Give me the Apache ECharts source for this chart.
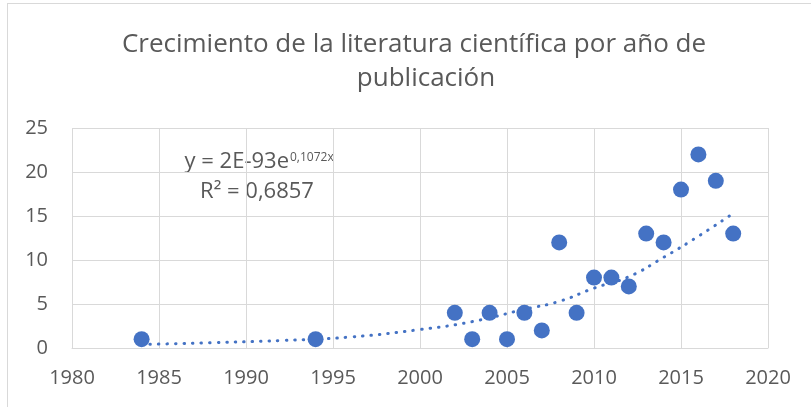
<!DOCTYPE html>
<html>
<head>
<meta charset="utf-8">
<script src="https://cdn.jsdelivr.net/npm/echarts@6/dist/echarts.min.js"></script>
<style>
  html, body { margin: 0; padding: 0; overflow: hidden; background: #fff; }
  .frame {
    position: absolute; left: 7px; top: 3px;
    width: 900px; height: 500px;
    border: 1px solid #d9d9d9;
  }
  #chart { position: absolute; left: 0; top: 0; width: 811px; height: 407px; }
</style>
</head>
<body>
<div class="frame"></div>
<div id="chart"></div>
<script>
// publicaciones por año
const years = [1984, 1994, 2002, 2003, 2004, 2005, 2006, 2007, 2008, 2009, 2010, 2011, 2012, 2013, 2014, 2015, 2016, 2017, 2018]
const counts = [1, 1, 4, 1, 4, 1, 4, 2, 12, 4, 8, 8, 7, 13, 12, 18, 22, 19, 13]

// línea de tendencia exponencial
const trendYears = [1984, 1988, 1992, 1996, 2000, 2003, 2006, 2008, 2010, 2012, 2014, 2016, 2018]
const trendValues = [0.4, 0.6, 0.85, 1.25, 2.1, 3.0, 4.4, 5.3, 6.8, 8.1, 10.3, 12.7, 15.3]

const textColor = '#595959'
const font = 'Open Sans'

const chart = echarts.init(document.getElementById('chart'))

const option = {
  animation: false,
  grid: { left: 72, right: 43, top: 128, bottom: 59 },
  xAxis: {
    type: 'value',
    min: 1980,
    max: 2020,
    interval: 5,
    axisLine: { show: true, lineStyle: { color: '#d9d9d9', width: 1 } },
    axisTick: { show: false },
    splitLine: { show: true, lineStyle: { color: '#d9d9d9', width: 1 } },
    axisLabel: {
      margin: 20,
      fontFamily: font,
      fontSize: 20,
      color: textColor,
      formatter: (v) => String(v)
    }
  },
  yAxis: {
    type: 'value',
    min: 0,
    max: 25,
    interval: 5,
    axisLine: { show: false },
    axisTick: { show: false },
    splitLine: { show: true, lineStyle: { color: '#d9d9d9', width: 1 } },
    axisLabel: {
      margin: 24,
      fontFamily: font,
      fontSize: 20,
      color: textColor
    }
  },
  graphic: [
    // título en dos líneas
    {
      type: 'text',
      style: {
        x: 414, y: 45,
        text: 'Crecimiento de la literatura científica por año de',
        align: 'center', verticalAlign: 'middle',
        fontFamily: font, fontSize: 26, fill: textColor
      }
    },
    {
      type: 'text',
      style: {
        x: 426, y: 79,
        text: 'publicación',
        align: 'center', verticalAlign: 'middle',
        fontFamily: font, fontSize: 26, fill: textColor
      }
    },
    // ecuación de la tendencia
    {
      type: 'text',
      style: {
        x: 289, y: 162,
        text: 'y = 2E-93e',
        align: 'right', verticalAlign: 'middle',
        fontFamily: font, fontSize: 22, fill: textColor
      }
    },
    {
      type: 'text',
      style: {
        x: 290, y: 157.5,
        text: '0,1072x',
        align: 'left', verticalAlign: 'middle',
        fontFamily: font, fontSize: 12, fill: textColor
      }
    },
    {
      type: 'text',
      style: {
        x: 257, y: 192,
        text: 'R² = 0,6857',
        align: 'center', verticalAlign: 'middle',
        fontFamily: font, fontSize: 22, fill: textColor
      }
    }
  ],
  series: [
    {
      type: 'line',
      data: trendYears.map((y, i) => [y, trendValues[i]]),
      smooth: true,
      showSymbol: false,
      symbol: 'none',
      z: 1,
      lineStyle: { color: '#4472c4', width: 3, type: [0.5, 8], cap: 'round' }
    },
    {
      type: 'scatter',
      data: years.map((y, i) => [y, counts[i]]),
      symbolSize: 16,
      z: 2,
      itemStyle: { color: '#4472c4', opacity: 1 }
    }
  ]
}

chart.setOption(option)
</script>
</body>
</html>
